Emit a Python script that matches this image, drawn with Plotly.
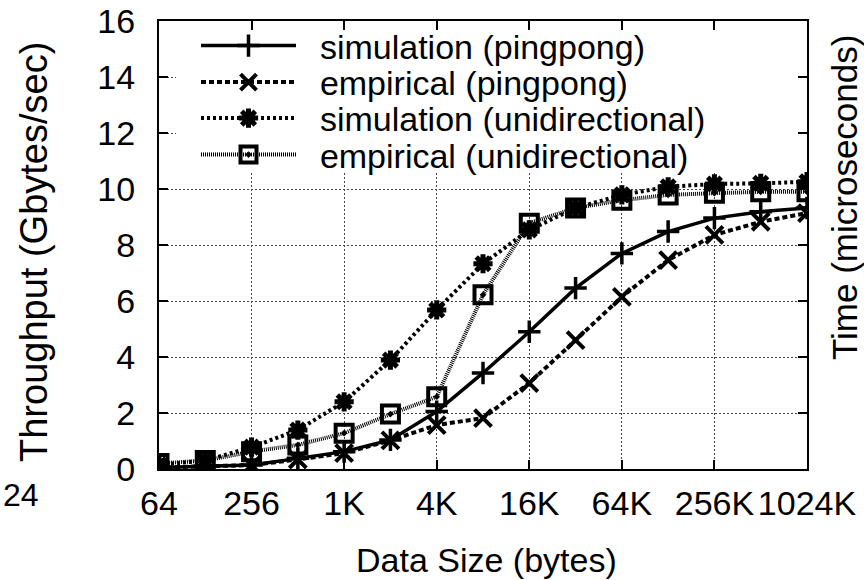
import math
import plotly.graph_objects as go

# Message sizes in bytes (powers of two, 64 B .. 1 MB)
sizes = [64, 128, 256, 512, 1024, 2048, 4096, 8192, 16384, 32768,
         65536, 131072, 262144, 524288, 1048576]

# Throughput in Gbytes/sec for each series
sim_pingpong = [0.05, 0.1, 0.14, 0.38, 0.62, 1.04, 2.05, 3.43, 4.9, 6.46,
                7.7, 8.48, 8.96, 9.19, 9.32]
emp_pingpong = [0.05, 0.1, 0.14, 0.34, 0.57, 1.02, 1.57, 1.82, 3.07, 4.6,
                6.15, 7.46, 8.36, 8.83, 9.14]
sim_unidir = [0.15, 0.3, 0.78, 1.39, 2.4, 3.89, 5.68, 7.33, 8.54, 9.32,
              9.79, 10.08, 10.18, 10.2, 10.26]
emp_unidir = [0.2, 0.3, 0.62, 0.86, 1.28, 1.96, 2.58, 6.22, 8.78, 9.32,
              9.6, 9.79, 9.85, 9.9, 9.9]

series_names = ["simulation (pingpong)", "empirical (pingpong)",
                "simulation (unidirectional)", "empirical (unidirectional)"]

x_tick_vals = [64, 256, 1024, 4096, 16384, 65536, 262144, 1048576]
x_tick_text = ["64", "256", "1K", "4K", "16K", "64K", "256K", "1024K"]
y_tick_vals = [0, 2, 4, 6, 8, 10, 12, 14, 16]

FONT = "Liberation Sans, Arial, Helvetica, sans-serif"

# Page and plot-area geometry in pixels
W, H = 864, 580
L, R, T, B = 159, 57, 21, 111
PW, PH = W - L - R, H - T - B
X_MIN, X_MAX = 64, 1048576
Y_MIN, Y_MAX = 0, 16


def px_x(p):
    return (p - L) / PW


def px_y(p):
    return (H - B - p) / PH


def data_x(p):
    lo, hi = math.log10(X_MIN), math.log10(X_MAX)
    return 10 ** (lo + px_x(p) * (hi - lo))


def data_y(p):
    return Y_MIN + px_y(p) * (Y_MAX - Y_MIN)


fig = go.Figure()

styles = [
    dict(line=dict(color="black", width=3.5, dash="solid"),
         marker=dict(symbol="cross-thin", size=16, color="black",
                     line=dict(color="black", width=3.5))),
    dict(line=dict(color="black", width=4, dash="5px,3px"),
         marker=dict(symbol="x-thin", size=17, color="black",
                     line=dict(color="black", width=4))),
    dict(line=dict(color="black", width=4, dash="3px,3px"),
         marker=dict(symbol="asterisk", size=16, color="black",
                     line=dict(color="black", width=5))),
    dict(line=dict(color="black", width=4, dash="1px,1px"),
         marker=dict(symbol="square-open-dot", size=17, color="black",
                     line=dict(color="black", width=4))),
]

legend_ids = ["legend", "legend2", "legend3", "legend4"]
legend_rows = [46, 82.5, 118.5, 155]  # row centres, px from top

for name, vals, st, lid in zip(series_names,
                               [sim_pingpong, emp_pingpong, sim_unidir,
                                emp_unidir],
                               styles, legend_ids):
    fig.add_trace(go.Scatter(x=sizes, y=vals, name="  " + name,
                             mode="lines+markers", legend=lid,
                             line=st["line"], marker=st["marker"]))

# White key area that hides the grid behind the legend
fig.add_shape(type="rect", xref="x", yref="y",
              x0=data_x(176), x1=X_MAX, y0=data_y(173), y1=Y_MAX,
              fillcolor="white", line=dict(width=0), layer="between")

axis_common = dict(showline=True, linecolor="black", linewidth=2,
                   mirror="ticks", ticks="inside", ticklen=9, tickwidth=1.5,
                   tickcolor="black", showgrid=True, gridcolor="#444",
                   gridwidth=1, griddash="2px,2px", zeroline=False,
                   automargin=False,
                   tickfont=dict(family=FONT, size=34, color="black"))

fig.update_xaxes(type="log",
                 range=[math.log10(X_MIN), math.log10(X_MAX)],
                 tickvals=x_tick_vals, ticktext=x_tick_text,
                 ticklabelstandoff=3, **axis_common)
fig.update_yaxes(range=[Y_MIN, Y_MAX], tickvals=y_tick_vals,
                 ticklabelstandoff=15, **axis_common)

annotations = [
    dict(text="Data Size (bytes)", x=px_x(486), y=px_y(560),
         font=dict(size=34)),
    dict(text="Throughput (Gbytes/sec)", x=px_x(34), y=px_y(252),
         textangle=-90, font=dict(size=38)),
    dict(text="Time (microseconds)", x=px_x(844), y=px_y(198),
         textangle=-90, font=dict(size=35)),
    dict(text="24", x=px_x(0.5), y=px_y(495), xanchor="left",
         font=dict(size=32)),
]
for a in annotations:
    a.setdefault("xanchor", "center")
    a.update(xref="paper", yref="paper", yanchor="middle", showarrow=False)
    a["font"].update(family=FONT, color="black")

layout_legends = {}
for lid, row in zip(legend_ids, legend_rows):
    layout_legends[lid] = dict(
        x=px_x(196), y=px_y(row), xanchor="left", yanchor="middle",
        bgcolor="rgba(0,0,0,0)", itemwidth=95, borderwidth=0,
        font=dict(family=FONT, size=34, color="black"))

fig.update_layout(
    width=W, height=H,
    margin=dict(l=L, r=R, t=T, b=B, autoexpand=False),
    paper_bgcolor="white", plot_bgcolor="white",
    showlegend=True,
    annotations=annotations,
    **layout_legends,
)

fig.write_html("out.html")
